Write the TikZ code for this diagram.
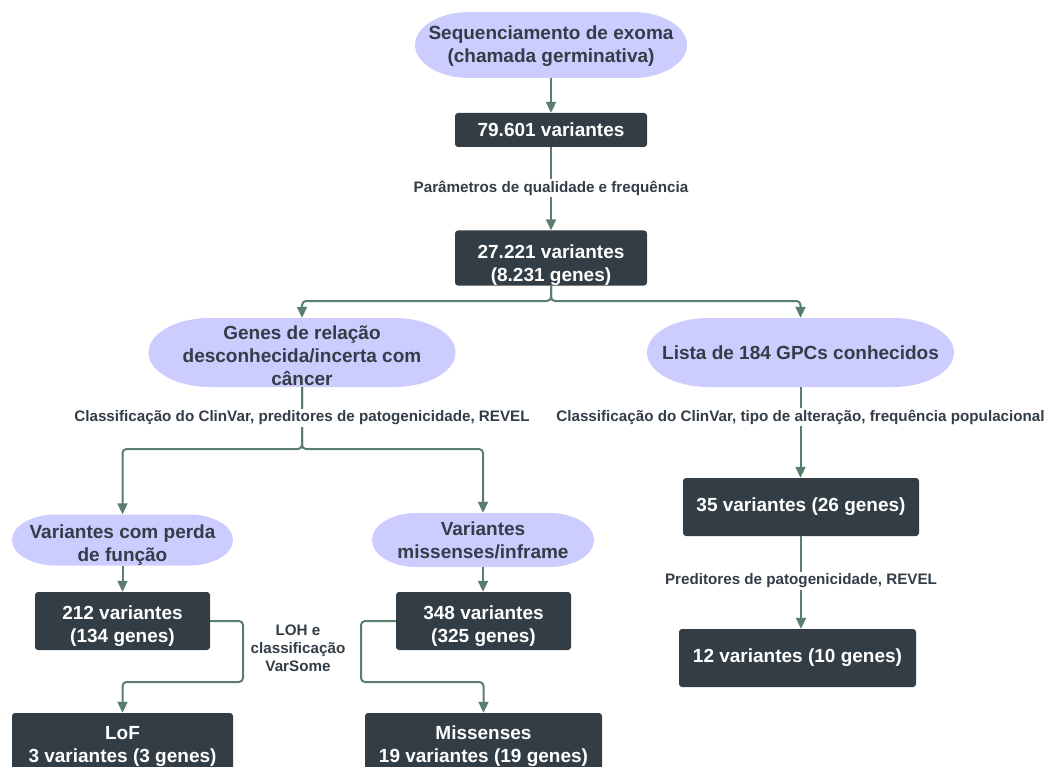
\documentclass[tikz,border=0pt]{standalone}
\usepackage{fontspec}
\setmainfont{Liberation Sans}
\usetikzlibrary{arrows.meta,calc}
\definecolor{lav}{HTML}{CCCCFF}
\definecolor{dark}{HTML}{323D45}
\definecolor{txt}{HTML}{333D47}
\definecolor{conncol}{HTML}{5A7D6E}
\newcommand\bigf{\bfseries\fontsize{19}{23}\selectfont}
\newcommand\smallf{\bfseries\fontsize{15.2}{18}\selectfont}
\newcommand\pushdown[1]{\rule{0pt}{#1}}
\begin{document}
\begin{tikzpicture}[x=1pt,y=1pt,
  pill/.style={rectangle, inner sep=0pt, align=center, text=txt, font=\bigf,
    path picture={\fill[lav] let \p1=(path picture bounding box.south west),
      \p2=(path picture bounding box.north east),
      \n1={0.2*(\x2-\x1)}, \n2={0.5*(\y2-\y1)} in
      ({\x1+\n1*1pt},\y2) -- ({\x2-\n1*1pt},\y2)
      arc[start angle=90,end angle=-90,x radius=\n1*1pt,y radius=\n2*1pt]
      -- ({\x1+\n1*1pt},\y1)
      arc[start angle=270,end angle=90,x radius=\n1*1pt,y radius=\n2*1pt] -- cycle;}},
  box/.style={rectangle, rounded corners=3pt, fill=dark, text=white, font=\bigf,
    align=center, inner sep=0pt},
  lbl/.style={fill=white, text=txt, font=\smallf, align=center, inner sep=2pt},
  conn/.style={draw=conncol, line width=2pt, rounded corners=4pt,
    -{Triangle[width=10pt,length=11pt]}}
]
\useasboundingbox (0,0) rectangle (1049,-767);

% nodes
\node[pill, minimum width=272pt, minimum height=66pt] (top) at (551,-45)
  {\pushdown{16pt}Sequenciamento de exoma\\(chamada germinativa)};
\node[box, minimum width=192pt, minimum height=34pt] (b79) at (551,-130)
  {79.601 variantes};
\node[box, minimum width=192pt, minimum height=50pt] (b27) at (551,-258)
  {\pushdown{28pt}27.221 variantes\\(8.231 genes)};
\node[pill, minimum width=307pt, minimum height=69pt] (gen) at (302,-352.5)
  {\pushdown{21pt}Genes de relação\\desconhecida/incerta com\\câncer};
\node[pill, minimum width=307pt, minimum height=69pt] (lista) at (800.5,-352.5)
  {Lista de 184 GPCs conhecidos};
\node[pill, minimum width=221pt, minimum height=51pt] (vperda) at (122.5,-540)
  {\pushdown{23pt}Variantes com perda\\de função};
\node[pill, minimum width=222pt, minimum height=54pt] (vmiss) at (483,-540)
  {Variantes\\missenses/inframe};
\node[box, minimum width=175pt, minimum height=58pt] (b212) at (122.5,-621)
  {\pushdown{24pt}212 variantes\\(134 genes)};
\node[box, minimum width=175pt, minimum height=58pt] (b348) at (483.5,-621)
  {\pushdown{24pt}348 variantes\\(325 genes)};
\node[box, minimum width=221pt, minimum height=62pt] (lof) at (122.5,-744)
  {\pushdown{19pt}LoF\\3 variantes (3 genes)};
\node[box, minimum width=237pt, minimum height=62pt] (mis) at (483.5,-744)
  {\pushdown{19pt}Missenses\\19 variantes (19 genes)};
\node[box, minimum width=236pt, minimum height=58pt] (b35) at (801,-507)
  {35 variantes (26 genes)};
\node[box, minimum width=237pt, minimum height=58pt] (b12) at (797.5,-658)
  {12 variantes (10 genes)};

% junction coordinates
\coordinate (j0) at (551,-301);
\coordinate (j1) at (302,-449);
\coordinate (c1) at (243,-682);
\coordinate (c2) at (361,-682);

% connectors
\draw[conn] (top) -- (b79);
\draw[conn] (b79) -- (b27);
\draw[conn] (b27.south) -- (j0) -| (gen.north);
\draw[conn] (b27.south) -- (j0) -| (lista.north);
\draw[conn] (gen.south) -- (j1) -| (vperda.north);
\draw[conn] (gen.south) -- (j1) -| (vmiss.north);
\draw[conn] (lista.south) -- (lista.south |- b35.north);
\draw[conn] (b35.south) -- (b35.south |- b12.north);
\draw[conn] (vperda) -- (vperda.south |- b212.north);
\draw[conn] (vmiss) -- (vmiss.south |- b348.north);
\draw[conn] (b212.east) -| (c1) -| (lof.north);
\draw[conn] (b348.west) -| (c2) -| (mis.north);

% labels
\node[lbl] (l1) at (551,-188) {Parâmetros de qualidade e frequência};
\node[lbl] (l2) at (302,-418) {Classificação do ClinVar, preditores de patogenicidade, REVEL};
\node[lbl] (l3) at (800.5,-417) {Classificação do ClinVar, tipo de alteração, frequência populacional};
\node[lbl] (l4) at (801,-581) {Preditores de patogenicidade, REVEL};
\node[lbl, fill=none] (l5) at (298,-648) {LOH e\\classificação\\VarSome};
\end{tikzpicture}
\end{document}
